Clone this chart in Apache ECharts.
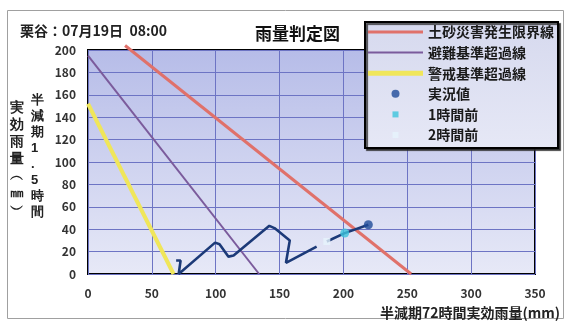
<!DOCTYPE html>
<html>
<head>
<meta charset="utf-8">
<script src="https://cdn.jsdelivr.net/npm/echarts@6/dist/echarts.min.js"></script>
<style>
html,body{margin:0;padding:0;background:#fff;}
#chart{width:567px;height:322px;}
</style>
</head>
<body>
<div id="chart"></div>
<script>
// ---- data ----
const xTicks = [0, 50, 100, 150, 200, 250, 300, 350];
const yTicks = [0, 20, 40, 60, 80, 100, 120, 140, 160, 180, 200];
const disasterLimitLine = [[29, 204], [253, 0]];   // 土砂災害発生限界線
const evacuationLine = [[0, 195], [134, 0]];        // 避難基準超過線
const warningLine = [[0, 152], [67, 0]];            // 警戒基準超過線
const trackPast = [[69, 12], [72.5, 12], [71, 0], [99.5, 28], [103, 26.5], [110, 15.5], [114, 16.5],
                   [142, 43], [146, 41], [158, 30], [155, 10], [179, 24.4]];
const trackRecent = [[187, 29], [201, 36.5], [219.5, 44]];
const currentValue = [[219.5, 44]];   // 実況値
const oneHourBefore = [[201, 36.5]];  // 1時間前
const twoHourBefore = [[187, 29]];    // 2時間前

const FONT = '"Noto Sans CJK JP", "Noto Sans", sans-serif';
const chart = echarts.init(document.getElementById('chart'), null, {renderer: 'canvas'});

const circleIcon = 'path://M0,0M14,14M3,7A4,4,0,1,1,11,7A4,4,0,1,1,3,7Z';
const squareIcon = 'path://M0,0M14,14M4,4L10,4L10,10L4,10Z';
function lineIcon(w) {
  const t = 7 - w / 2, b = 7 + w / 2;
  return 'path://M0,0M55,14M0,' + t + 'L55,' + t + 'L55,' + b + 'L0,' + b + 'Z';
}

chart.setOption({
  animation: false,
  textStyle: {fontFamily: FONT},
  title: [
    {text: '栗谷：07月19日  08:00', left: 20, top: 24, padding: 0,
     textStyle: {fontSize: 14, fontWeight: 'bold', color: '#222', fontFamily: FONT}},
    {text: '雨量判定図', left: 255, top: 25, padding: 0,
     textStyle: {fontSize: 17, fontWeight: 'bold', color: '#111', fontFamily: FONT}}
  ],
  legend: {
    orient: 'vertical', left: 365, top: 22, z: 10,
    padding: [3, 4, 6, 3], itemGap: 6.6, itemWidth: 55, itemHeight: 14,
    backgroundColor: new echarts.graphic.LinearGradient(0, 0, 0, 1, [
      {offset: 0, color: '#d6d9ee'}, {offset: 1, color: '#e6e8f6'}]),
    borderColor: '#000', borderWidth: 2,
    shadowColor: 'rgba(40,40,40,0.8)', shadowOffsetX: 2, shadowOffsetY: 2, shadowBlur: 1,
    textStyle: {fontSize: 14, fontWeight: 'bold', color: '#1a1a1a', fontFamily: FONT},
    selectedMode: false,
    data: [
      {name: '土砂災害発生限界線', icon: lineIcon(3)},
      {name: '避難基準超過線', icon: lineIcon(2)},
      {name: '警戒基準超過線', icon: lineIcon(5)},
      {name: '実況値', icon: circleIcon},
      {name: '1時間前', icon: squareIcon},
      {name: '2時間前', icon: squareIcon}]
  },
  grid: {
    left: 88, top: 50, width: 447, height: 224, show: true,
    borderColor: '#000', borderWidth: 2,
    backgroundColor: new echarts.graphic.LinearGradient(0, 0, 0, 1, [
      {offset: 0, color: '#b6bce8'}, {offset: 1, color: '#e7e9f7'}])
  },
  xAxis: {
    type: 'value', min: xTicks[0], max: xTicks[xTicks.length - 1], interval: 50,
    axisLine: {show: false}, axisTick: {show: false},
    splitLine: {show: true, lineStyle: {color: '#6d74c4', width: 1}},
    axisLabel: {fontSize: 12, fontWeight: 'bold', color: '#333', margin: 13, fontFamily: FONT},
    name: '半減期72時間実効雨量(mm)', nameLocation: 'end', nameGap: 25,
    nameTextStyle: {align: 'right', verticalAlign: 'top', padding: [32, 0, 0, 0],
      fontSize: 14, fontWeight: 'bold', color: '#222', fontFamily: FONT}
  },
  yAxis: {
    type: 'value', min: yTicks[0], max: yTicks[yTicks.length - 1], interval: 20,
    axisLine: {show: false}, axisTick: {show: false},
    splitLine: {show: true, lineStyle: {color: '#6d74c4', width: 1}},
    axisLabel: {fontSize: 12, fontWeight: 'bold', color: '#333', margin: 12, fontFamily: FONT}
  },
  graphic: [
    {type: 'rect', shape: {x: 7.5, y: 10.5, width: 556, height: 308}, silent: true, z: -10,
     style: {fill: 'none', stroke: '#a0a0a0', lineWidth: 1}},
    {type: 'text', left: 10, top: 100, z: 5,
     style: {text: '実\n効\n雨\n量\n︵\n㎜\n︶', fontSize: 14, lineHeight: 17, fontWeight: 'bold',
       fill: '#222', align: 'center', font: 'bold 14px ' + FONT}},
    {type: 'text', left: 31, top: 92, z: 5,
     style: {text: '半\n減\n期\n1\n.\n5\n時\n間', fontSize: 13, lineHeight: 16, fontWeight: 'bold',
       fill: '#222', align: 'center', font: 'bold 13px ' + FONT}}
  ],
  series: [
    {name: '土砂災害発生限界線', type: 'line', data: disasterLimitLine, symbol: 'none', clip: false,
     lineStyle: {color: '#e0716a', width: 3}, itemStyle: {color: '#e0716a'}, z: 3},
    {name: '避難基準超過線', type: 'line', data: evacuationLine, symbol: 'none',
     lineStyle: {color: '#7b5b9c', width: 2}, itemStyle: {color: '#7b5b9c'}, z: 3},
    {name: '警戒基準超過線', type: 'line', data: warningLine, symbol: 'none',
     lineStyle: {color: '#f0e65a', width: 4}, itemStyle: {color: '#f0e65a'}, z: 3},
    {name: '実況値軌跡', type: 'line', data: trackPast, symbol: 'none',
     lineStyle: {color: '#1c3a78', width: 2.6}, z: 4},
    {name: '実況値軌跡2', type: 'line', data: trackRecent, symbol: 'none',
     lineStyle: {color: '#1c3a78', width: 2.6}, z: 4},
    {name: '2時間前', type: 'scatter', data: twoHourBefore, symbol: 'rect', symbolSize: 7,
     itemStyle: {color: '#e6f4fc'}, z: 5},
    {name: '1時間前', type: 'scatter', data: oneHourBefore, symbol: 'circle', symbolSize: 9,
     itemStyle: {color: '#3cc4dc'}, z: 5},
    {name: '実況値', type: 'scatter', data: currentValue, symbol: 'circle', symbolSize: 9,
     itemStyle: {color: '#1f4b98'}, z: 6}
  ]
});
</script>
</body>
</html>
